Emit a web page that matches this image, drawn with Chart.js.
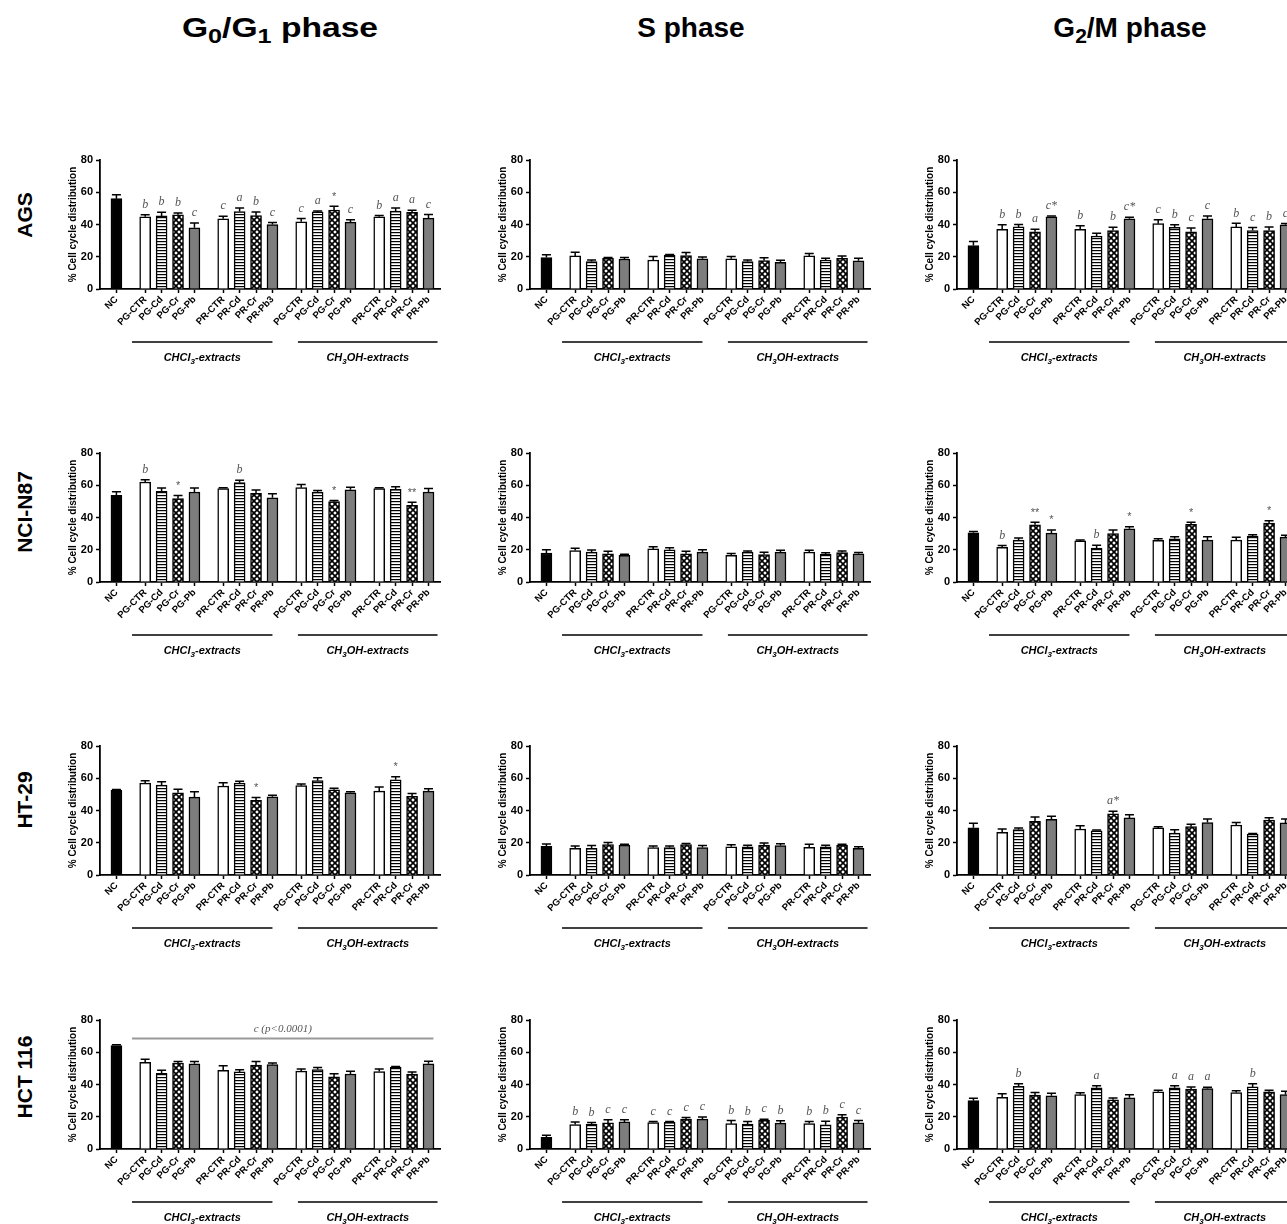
<!DOCTYPE html>
<html>
<head>
<meta charset="utf-8">
<script src="https://cdn.jsdelivr.net/npm/chart.js@4.4.1/dist/chart.umd.min.js"></script>
<style>
body { margin:0; width:1287px; height:1224px; overflow:hidden; background:#fff; position:relative; font-family:"Liberation Sans", Arial, sans-serif; }
.title { position:absolute; top:12px; font-weight:bold; font-size:28px; white-space:nowrap; transform:translateX(-50%); }
.title sub { font-size:21px; vertical-align:-6px; }
.title.wide { transform:translateX(-50%) scaleX(1.2); }
.rowlab { position:absolute; left:25px; font-weight:bold; font-size:21px; white-space:nowrap; transform:translate(-50%,-50%) rotate(-90deg); }
canvas { position:absolute; }
</style>
</head>
<body>
<div class="title wide" style="left:280px">G<sub>0</sub>/G<sub>1</sub> phase</div>
<div class="title" style="left:691px">S phase</div>
<div class="title" style="left:1130px">G<sub>2</sub>/M phase</div>
<div class="rowlab" style="top:215px">AGS</div>
<div class="rowlab" style="top:512px">NCI-N87</div>
<div class="rowlab" style="top:800px">HT-29</div>
<div class="rowlab" style="top:1077px">HCT 116</div>

<script>
// bar positions and labels (NC, CHCl3 PG/PR, CH3OH PG/PR)
var xPos = [0, 1.75, 2.75, 3.75, 4.75, 6.5, 7.5, 8.5, 9.5, 11.25, 12.25, 13.25, 14.25, 16, 17, 18, 19];
var tickLabels = ['NC', 'PG-CTR', 'PG-Cd', 'PG-Cr', 'PG-Pb', 'PR-CTR', 'PR-Cd', 'PR-Cr', 'PR-Pb',
                  'PG-CTR', 'PG-Cd', 'PG-Cr', 'PG-Pb', 'PR-CTR', 'PR-Cd', 'PR-Cr', 'PR-Pb'];
var agsG1Labels = ['NC', 'PG-CTR', 'PG-Cd', 'PG-Cr', 'PG-Pb', 'PR-CTR', 'PR-Cd', 'PR-Cr', 'PR-Pb3',
                  'PG-CTR', 'PG-Cd', 'PG-Cr', 'PG-Pb', 'PR-CTR', 'PR-Cd', 'PR-Cr', 'PR-Pb'];
var yTicks = [0, 20, 40, 60, 80];

// AGS
var agsG1 = [56, 44.8, 45.3, 46, 38, 43.5, 48, 45.5, 40, 41.7, 47.8, 49, 41.5, 44.8, 48.3, 47.5, 44];
var agsG1Err = [2.5, 1.2, 2.3, 1.2, 3, 1.6, 2.3, 2.3, 1.2, 2, 0.6, 2.3, 1.5, 0.8, 2, 1.3, 2.2];
var agsG1Sig = ['', 'b', 'b', 'b', 'c', 'c', 'a', 'b', 'c', 'c', 'a', '*', 'c', 'b', 'a', 'a', 'c'];
var agsS = [19.5, 20.5, 17, 19, 18.6, 18, 21, 20.8, 18.7, 18.7, 17, 17.6, 16.5, 20.5, 18, 19, 17.5];
var agsSErr = [1.8, 2.3, 1, 0.6, 1, 2.2, 0.4, 1.8, 1.2, 1.5, 1, 1.8, 1.3, 1.5, 1, 1.5, 1.5];
var agsSSig = [];
var agsG2 = [27, 37, 38.5, 35.5, 44.8, 37, 32.8, 36.3, 43.5, 40.5, 38.3, 35.5, 43.5, 38.5, 36.3, 36.3, 39.8];
var agsG2Err = [2.5, 2.8, 1.5, 1.5, 0.5, 2.3, 1.8, 2, 1, 2.5, 1.5, 2.3, 1.8, 2.2, 1.8, 2.2, 0.8];
var agsG2Sig = ['', 'b', 'b', 'a', 'c*', 'b', '', 'b', 'c*', 'c', 'b', 'c', 'c', 'b', 'c', 'b', 'c'];

// NCI-N87
var nciG1 = [53.8, 62, 56.3, 51.7, 55.8, 58, 61.7, 55, 52.2, 58.5, 55.7, 49.8, 57.2, 58, 57.5, 47.5, 55.8];
var nciG1Err = [2.2, 1.4, 2, 2, 2.5, 0.5, 1.4, 2, 2.5, 2, 1, 0.7, 1.5, 0.5, 1.5, 2, 2.2];
var nciG1Sig = ['', 'b', '', '*', '', '', 'b', '', '', '', '', '*', '', '', '', '**', ''];
var nciS = [18, 19.5, 18.5, 17.5, 16.5, 20.5, 20, 17.5, 18.5, 16.5, 18.5, 17, 18.5, 18.5, 17.3, 18.3, 17.5];
var nciSErr = [2, 1.5, 1.3, 1.5, 0.7, 1.3, 1.2, 1.5, 1.5, 1.2, 0.8, 1.5, 1.2, 1.2, 0.8, 1, 0.8];
var nciSSig = [];
var nciG2 = [30.5, 21.5, 26, 35.5, 30.3, 25.5, 21, 30, 33, 25.8, 26.8, 35.7, 26, 26, 28.5, 36.5, 27.8];
var nciG2Err = [0.8, 1.2, 1.3, 1.5, 2, 0.5, 1.8, 2.2, 1.3, 1, 1.3, 1.3, 2, 1.7, 0.8, 1.5, 1.2];
var nciG2Sig = ['', 'b', '', '**', '*', '', 'b', '', '*', '', '', '*', '', '', '', '*', ''];

// HT-29
var htG1 = [52.5, 57, 55.8, 51, 48.3, 55.2, 57, 46.3, 48.5, 55.4, 58.5, 52.8, 51, 52, 59, 48.8, 52];
var htG1Err = [0.5, 1.5, 2, 2.2, 3.3, 2, 1.2, 1.8, 1, 1, 1.8, 1, 0.6, 2.5, 2, 1.8, 1.5];
var htG1Sig = ['', '', '', '', '', '', '', '*', '', '', '', '', '', '', '*', '', ''];
var htS = [17.8, 16.5, 16.5, 18.8, 18.5, 17, 17, 18.8, 17, 17.5, 17.5, 18.6, 18.3, 17.2, 17.5, 18.5, 16.5];
var htSErr = [1.5, 1.5, 1.8, 1.3, 0.5, 1, 1, 0.7, 1.3, 1.2, 0.9, 1.2, 1.1, 1.8, 1, 0.5, 1];
var htSSig = [];
var htG2 = [29.3, 26.5, 28.2, 33.3, 34.5, 28.5, 27.4, 38, 35.4, 29.2, 26, 30, 32.5, 31, 25.3, 34, 32.3];
var htG2Err = [2.8, 2, 1, 2.7, 2, 2, 0.5, 1.6, 2, 0.8, 2, 1.5, 2.3, 1.5, 0.5, 1.5, 2.5];
var htG2Sig = ['', '', '', '', '', '', '', 'a*', '', '', '', '', '', '', '', '', ''];

// HCT 116
var hctG1 = [64.2, 53.8, 47, 53.3, 52.8, 48.8, 47.8, 52, 52.4, 48.3, 49.3, 44.7, 46.5, 48, 50.6, 46.5, 52.8];
var hctG1Err = [0.4, 1.8, 1.8, 1, 1.4, 2.8, 1.4, 2.3, 1, 1.3, 1.3, 2, 1.7, 1.6, 0.6, 1.3, 1.6];
var hctG1Sig = [];
var hctS = [7.2, 15.2, 15.3, 16.2, 16.8, 16.4, 16.5, 18.5, 18.5, 15.7, 15.5, 17.8, 16, 15.8, 15, 19.8, 16.3];
var hctSErr = [1.4, 1.5, 1.2, 2, 1.4, 0.6, 0.6, 1, 1.3, 2, 1.5, 0.7, 1.5, 1.3, 2.2, 1.5, 1.3];
var hctSSig = ['', 'b', 'b', 'c', 'c', 'c', 'c', 'c', 'c', 'b', 'b', 'c', 'b', 'b', 'b', 'c', 'c'];
var hctG2 = [30, 32, 38.8, 33.5, 33, 33.7, 38, 30.5, 31.8, 35.5, 38, 37.2, 37.5, 35, 38.5, 35.5, 33.8];
var hctG2Err = [1.5, 2.3, 1.6, 1.5, 1.6, 1.2, 1.3, 1.2, 1.8, 1, 1.2, 1.2, 0.8, 1.2, 2, 1, 2];
var hctG2Sig = ['', '', 'b', '', '', '', 'a', '', '', '', 'a', 'a', 'a', '', 'b', '', ''];

// group brackets under the axis
var groupSpans = [[0.95, 9.5], [11.05, 19.55]];
var groupNames = [[['CHCl', 0], ['3', 1], ['-extracts', 0]], [['CH', 0], ['3', 1], ['OH-extracts', 0]]];

// fills
function makePattern(size, draw) {
    var c = document.createElement('canvas');
    c.width = size[0]; c.height = size[1];
    var g = c.getContext('2d');
    g.fillStyle = '#fff';
    g.fillRect(0, 0, c.width, c.height);
    draw(g);
    return g.createPattern(c, 'repeat');
}
var stripes = makePattern([4, 3], function (g) {
    g.fillStyle = '#000';
    g.fillRect(0, 0, 4, 1.2);
});
var cross = makePattern([6, 6], function (g) {
    g.strokeStyle = '#000';
    g.lineWidth = 1.7;
    g.beginPath();
    g.moveTo(-1, -1); g.lineTo(7, 7);
    g.moveTo(7, -1); g.lineTo(-1, 7);
    g.stroke();
});
var fills = ['#000', '#fff', stripes, cross, '#7d7d7d'];
var barFill = xPos.map(function (v, i) { return i == 0 ? fills[0] : fills[1 + (i - 1) % 4]; });

function drawParts(ctx, parts, cx, y) {
    var big = 'italic bold 11px "Liberation Sans"', small = 'italic bold 8px "Liberation Sans"';
    var w = 0;
    parts.forEach(function (p) { ctx.font = p[1] ? small : big; w += ctx.measureText(p[0]).width; });
    var x = cx - w / 2;
    ctx.textAlign = 'left';
    ctx.textBaseline = 'alphabetic';
    parts.forEach(function (p) {
        ctx.font = p[1] ? small : big;
        ctx.fillText(p[0], x, p[1] ? y + 3 : y);
        x += ctx.measureText(p[0]).width;
    });
}

var errorBars = {
    id: 'errorBars',
    afterDatasetsDraw: function (chart, args, opts) {
        var ctx = chart.ctx, y = chart.scales.y;
        var meta = chart.getDatasetMeta(0);
        ctx.save();
        meta.data.forEach(function (bar, i) {
            var top = y.getPixelForValue(opts.vals[i] + opts.errs[i]);
            ctx.strokeStyle = '#000';
            ctx.lineWidth = 1.5;
            ctx.beginPath();
            ctx.moveTo(bar.x, bar.y);
            ctx.lineTo(bar.x, top);
            ctx.moveTo(bar.x - 4.5, top);
            ctx.lineTo(bar.x + 4.5, top);
            ctx.stroke();
            var s = opts.sigs[i];
            if (s) {
                ctx.fillStyle = '#555';
                ctx.textAlign = 'center';
                ctx.textBaseline = 'bottom';
                ctx.font = s.indexOf('*') == 0 ? '11px "Liberation Sans"' : 'italic 12px "Liberation Serif"';
                ctx.fillText(s, bar.x, top - 4);
            }
        });
        if (opts.bracket) {
            var b = opts.bracket, x = chart.scales.x;
            var yy = y.getPixelForValue(b.value);
            ctx.strokeStyle = '#999';
            ctx.lineWidth = 2;
            ctx.beginPath();
            ctx.moveTo(x.getPixelForValue(b.from), yy);
            ctx.lineTo(x.getPixelForValue(b.to), yy);
            ctx.stroke();
            ctx.fillStyle = '#555';
            ctx.textAlign = 'center';
            ctx.textBaseline = 'bottom';
            ctx.font = 'italic 11px "Liberation Serif"';
            ctx.fillText(b.text, x.getPixelForValue((b.from + b.to) / 2), yy - 4);
        }
        ctx.restore();
    }
};

var groupLines = {
    id: 'groupLines',
    afterDraw: function (chart) {
        var ctx = chart.ctx, x = chart.scales.x, b = chart.chartArea.bottom;
        ctx.save();
        ctx.strokeStyle = '#000';
        ctx.fillStyle = '#000';
        ctx.lineWidth = 1.5;
        groupSpans.forEach(function (g, k) {
            var x1 = x.getPixelForValue(g[0]), x2 = x.getPixelForValue(g[1]);
            ctx.beginPath();
            ctx.moveTo(x1, b + 53);
            ctx.lineTo(x2, b + 53);
            ctx.stroke();
            drawParts(ctx, groupNames[k], (x1 + x2) / 2, b + 72);
        });
        ctx.restore();
    }
};

function makePanel(left, top, vals, errs, sigs, labels, bracket) {
    var cv = document.createElement('canvas');
    cv.width = 400; cv.height = 228;
    cv.style.left = (left - 50) + 'px';
    cv.style.top = (top - 12) + 'px';
    document.body.appendChild(cv);

    new Chart(cv.getContext('2d'), {
        type: 'bar',
        data: {
            datasets: [{
                data: vals.map(function (v, i) { return { x: xPos[i], y: v }; }),
                backgroundColor: barFill,
                borderColor: '#000',
                borderWidth: 1.5,
                borderSkipped: 'bottom',
                barThickness: 11
            }]
        },
        options: {
            responsive: false,
            animation: false,
            layout: { padding: { top: 12, left: 0, right: 10, bottom: 47 } },
            plugins: {
                legend: { display: false },
                tooltip: { enabled: false },
                errorBars: { vals: vals, errs: errs, sigs: sigs, bracket: bracket }
            },
            scales: {
                x: {
                    type: 'linear',
                    min: -1,
                    max: 19.7,
                    offset: false,
                    afterBuildTicks: function (scale) {
                        scale.ticks = xPos.map(function (v) { return { value: v }; });
                    },
                    afterFit: function (scale) { scale.height = 40; },
                    ticks: {
                        autoSkip: false,
                        minRotation: 45,
                        maxRotation: 45,
                        padding: 1,
                        color: '#000',
                        font: { family: 'Liberation Sans', size: 9.5, weight: 'bold' },
                        callback: function (v, i) { return labels[i]; }
                    },
                    grid: { drawOnChartArea: false, offset: false, tickLength: 4, tickColor: '#000', tickWidth: 1.5 },
                    border: { color: '#000', width: 1.8 }
                },
                y: {
                    min: 0,
                    max: 80,
                    afterBuildTicks: function (scale) {
                        scale.ticks = yTicks.map(function (v) { return { value: v }; });
                    },
                    afterFit: function (scale) { scale.width = 50; },
                    ticks: {
                        padding: 3,
                        color: '#000',
                        font: { family: 'Liberation Sans', size: 11, weight: 'bold' }
                    },
                    grid: { drawOnChartArea: false, tickLength: 4, tickColor: '#000', tickWidth: 1.5 },
                    border: { color: '#000', width: 1.8 },
                    title: {
                        display: true,
                        text: '% Cell cycle distribution',
                        color: '#000',
                        padding: { top: 17, bottom: 0 },
                        font: { family: 'Liberation Sans', size: 10, weight: 'bold' }
                    }
                }
            }
        },
        plugins: [errorBars, groupLines]
    });
}

var colX = [100, 530, 957];
var rowY = [160, 453, 746, 1020];

makePanel(colX[0], rowY[0], agsG1, agsG1Err, agsG1Sig, agsG1Labels);
makePanel(colX[1], rowY[0], agsS, agsSErr, agsSSig, tickLabels);
makePanel(colX[2], rowY[0], agsG2, agsG2Err, agsG2Sig, tickLabels);

makePanel(colX[0], rowY[1], nciG1, nciG1Err, nciG1Sig, tickLabels);
makePanel(colX[1], rowY[1], nciS, nciSErr, nciSSig, tickLabels);
makePanel(colX[2], rowY[1], nciG2, nciG2Err, nciG2Sig, tickLabels);

makePanel(colX[0], rowY[2], htG1, htG1Err, htG1Sig, tickLabels);
makePanel(colX[1], rowY[2], htS, htSErr, htSSig, tickLabels);
makePanel(colX[2], rowY[2], htG2, htG2Err, htG2Sig, tickLabels);

makePanel(colX[0], rowY[3], hctG1, hctG1Err, hctG1Sig, tickLabels,
    { from: 0.95, to: 19.3, value: 68.5, text: 'c (p<0.0001)' });
makePanel(colX[1], rowY[3], hctS, hctSErr, hctSSig, tickLabels);
makePanel(colX[2], rowY[3], hctG2, hctG2Err, hctG2Sig, tickLabels);
</script>
</body>
</html>
